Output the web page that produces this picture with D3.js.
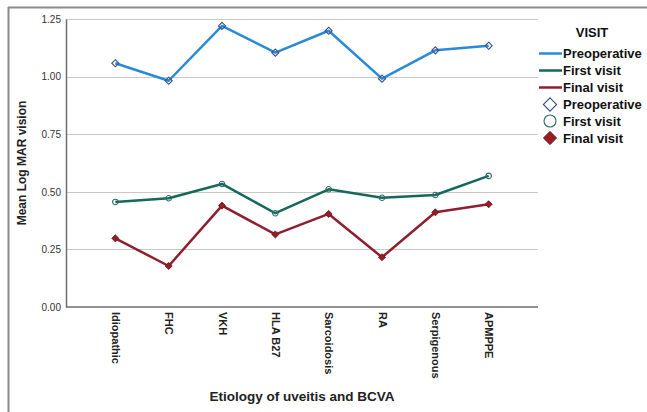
<!DOCTYPE html>
<html>
<head>
<meta charset="utf-8">
<script src="https://cdn.jsdelivr.net/npm/d3@7/dist/d3.min.js"></script>
<style>
  html, body { margin: 0; padding: 0; background: #fff; }
  svg { display: block; font-family: Arial, "Liberation Sans", sans-serif; }
</style>
</head>
<body>
<svg id="chart" width="647" height="412"></svg>
<script>
// Etiology categories along the x axis
const categories = ["Idiopathic", "FHC", "VKH", "HLA B27", "Sarcoidosis", "RA", "Serpigenous", "APMPPE"];

// Mean LogMAR vision per visit
const preoperative = [1.058, 0.982, 1.220, 1.104, 1.199, 0.991, 1.114, 1.134];
const firstVisit   = [0.456, 0.472, 0.534, 0.407, 0.511, 0.474, 0.486, 0.569];
const finalVisit   = [0.298, 0.178, 0.440, 0.315, 0.404, 0.216, 0.411, 0.446];

const yTicks = [0, 0.25, 0.5, 0.75, 1.0, 1.25];

const series = [
  { name: "Preoperative", values: preoperative, color: "#2a8ad6", marker: "diamondOpen" },
  { name: "First visit",  values: firstVisit,   color: "#16695a", marker: "circleOpen" },
  { name: "Final visit",  values: finalVisit,   color: "#8e1f31", marker: "diamondFilled" }
];

const svg = d3.select("#chart");

// outer frame (left and top edges)
svg.append("line").attr("x1", 8.5).attr("x2", 8.5).attr("y1", 7).attr("y2", 412)
  .attr("stroke", "#8a8a8a").attr("stroke-width", 2);
svg.append("line").attr("x1", 8).attr("x2", 647).attr("y1", 7.5).attr("y2", 7.5)
  .attr("stroke", "#8a8a8a").attr("stroke-width", 2);

const plot = { left: 66, right: 538, top: 19, bottom: 307 };

const x = d3.scalePoint().domain(categories).range([plot.left, plot.right]).padding(0.925);
const y = d3.scaleLinear().domain([0, 1.25]).range([plot.bottom, plot.top]);

// horizontal gridlines
svg.append("g").selectAll("line").data(yTicks.filter(d => d > 0)).join("line")
  .attr("x1", plot.left).attr("x2", plot.right)
  .attr("y1", d => Math.round(y(d)) + 0.5).attr("y2", d => Math.round(y(d)) + 0.5)
  .attr("stroke", "#c9c9c9").attr("stroke-width", 1.2);

// y axis
const yAxis = svg.append("g").attr("transform", `translate(${plot.left},0)`)
  .call(d3.axisLeft(y).tickValues(yTicks).tickFormat(d3.format(".2f")).tickSize(0).tickPadding(5));
yAxis.select(".domain").attr("stroke", "#6e6e6e").attr("stroke-width", 1.5);
yAxis.selectAll("text").attr("font-size", 10).attr("fill", "#333")
  .attr("font-family", "Arial, 'Liberation Sans', sans-serif");

// x axis
const xAxis = svg.append("g").attr("transform", `translate(0,${plot.bottom})`)
  .call(d3.axisBottom(x).tickSize(0).tickSizeOuter(0));
xAxis.select(".domain").attr("stroke", "#6e6e6e").attr("stroke-width", 1.5)
  .attr("d", `M${plot.left},0H${plot.right}`);
xAxis.selectAll("text")
  .attr("transform", "rotate(90)")
  .attr("x", 5).attr("y", 0).attr("dy", "0.35em")
  .style("text-anchor", "start")
  .attr("font-size", 11).attr("font-weight", "bold").attr("fill", "#222")
  .attr("font-family", "Arial, 'Liberation Sans', sans-serif");

// axis titles
svg.append("text")
  .attr("transform", `translate(26,${(plot.top + plot.bottom) / 2}) rotate(-90)`)
  .attr("text-anchor", "middle").attr("font-size", 12).attr("font-weight", "bold").attr("fill", "#222")
  .text("Mean Log MAR vision");
svg.append("text")
  .attr("x", (plot.left + plot.right) / 2).attr("y", 401)
  .attr("text-anchor", "middle").attr("font-size", 13.5).attr("font-weight", "bold").attr("fill", "#222")
  .text("Etiology of uveitis and BCVA");

// symbol drawing
function drawMarker(g, type, color, size) {
  if (type === "diamondOpen") {
    g.append("path").attr("d", d3.symbol(d3.symbolDiamond2, size * size * 0.5)())
      .attr("fill", "#fff").attr("fill-opacity", 0).attr("stroke", "#3a4f8a").attr("stroke-width", 1.1);
  } else if (type === "circleOpen") {
    g.append("circle").attr("r", size / 2)
      .attr("fill", "none").attr("stroke", "#2a6b6a").attr("stroke-width", 1.1);
  } else {
    g.append("path").attr("d", d3.symbol(d3.symbolDiamond2, size * size * 0.5)())
      .attr("fill", "#9a1b22").attr("stroke", "#5a1a1a").attr("stroke-width", 0.8);
  }
}

const line = d3.line().x((d, i) => x(categories[i])).y(d => y(d));

series.forEach(s => {
  svg.append("path").datum(s.values)
    .attr("d", line).attr("fill", "none")
    .attr("stroke", s.color).attr("stroke-width", 2.5).attr("stroke-linejoin", "round");
});
series.forEach(s => {
  s.values.forEach((v, i) => {
    const g = svg.append("g").attr("transform", `translate(${x(categories[i])},${y(v)})`);
    const sz = s.marker === "circleOpen" ? 5.5 : 8;
    drawMarker(g, s.marker, s.color, sz);
  });
});

// legend
const lg = svg.append("g");
lg.append("text").attr("x", 592).attr("y", 37).attr("text-anchor", "middle")
  .attr("font-size", 13).attr("font-weight", "bold").attr("fill", "#111").text("VISIT");
const rowY = [53.5, 70.5, 87.5, 104.5, 121, 138];
series.forEach((s, i) => {
  lg.append("line").attr("x1", 539).attr("x2", 562).attr("y1", rowY[i]).attr("y2", rowY[i])
    .attr("stroke", s.color).attr("stroke-width", 2.5);
  lg.append("text").attr("x", 563).attr("y", rowY[i]).attr("dy", "0.36em")
    .attr("font-size", 13).attr("font-weight", "bold").attr("fill", "#111").text(s.name);
});
series.forEach((s, i) => {
  const yy = rowY[i + 3];
  const g = lg.append("g").attr("transform", `translate(550,${yy})`);
  drawMarker(g, s.marker, s.color, s.marker === "circleOpen" ? 12 : 15);
  lg.append("text").attr("x", 563).attr("y", yy).attr("dy", "0.36em")
    .attr("font-size", 13).attr("font-weight", "bold").attr("fill", "#111").text(s.name);
});
</script>
</body>
</html>
